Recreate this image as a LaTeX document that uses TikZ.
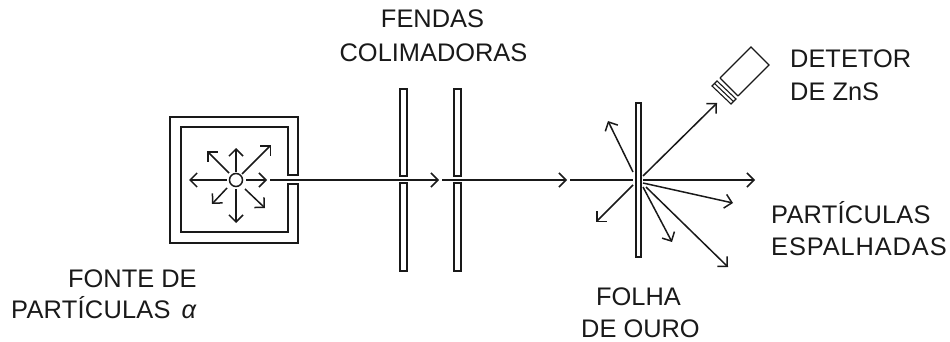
\documentclass[tikz,border=0pt]{standalone}
\usepackage{fontspec}
\setmainfont{Liberation Sans}
\usetikzlibrary{arrows.meta}
\tikzset{
 x=1pt,y=-1pt,
 ln/.style={draw=black!90,line width=1.5pt},
 ray/.style={ln,-{Straight Barb[length=7pt,width=14pt,line width=1.5pt]}},
 lbl/.style={font=\fontsize{25.4}{25.4}\selectfont,text=black!90,inner sep=0pt,anchor=base},
 lleft/.style={lbl,anchor=base west},
 slab/.style={ln,fill=white},
}
\begin{document}
\begin{tikzpicture}
\useasboundingbox (0,0) rectangle (950,342);
% source box
\draw[ln] (298,175) -- (298,117) -- (170,117) -- (170,243) -- (298,243) -- (298,184) -- (288,184) -- (288,232) -- (181,232) -- (181,127) -- (288,127) -- (288,175) -- cycle;
\node[ln,circle,minimum size=13pt,inner sep=0pt] (src) at (236,180) {};
\coordinate (al0) at (227,180); \coordinate (al1) at (189,180);
\coordinate (ar0) at (246,180); \coordinate (ar1) at (267,180);
\coordinate (au0) at (236,172); \coordinate (au1) at (236,148);
\coordinate (ad0) at (236,189); \coordinate (ad1) at (236,223);
\coordinate (aul0) at (229,173); \coordinate (aul1) at (207,151);
\coordinate (aur0) at (242,174); \coordinate (aur1) at (271,145);
\coordinate (adl0) at (227,188); \coordinate (adl1) at (212,204);
\coordinate (adr0) at (245,189); \coordinate (adr1) at (265,208);
\foreach \k in {al,ar,au,ad,aul,aur,adl,adr} \draw[ray] (\k0) -- (\k1);
% slits
\foreach \xa/\xb in {400/407,454/461}{
 \draw[slab] (\xa,89) rectangle (\xb,176);
 \draw[slab] (\xa,183) rectangle (\xb,271);
}
% foil
\draw[slab] (636,103) rectangle (641,257);
% beam
\coordinate (b0) at (270,180); \coordinate (b1) at (439,180);
\coordinate (b2) at (442,180); \coordinate (b3) at (567,180);
\coordinate (b4) at (570,180); \coordinate (b5) at (633,180);
\draw[ray] (b0) -- (b1);
\draw[ray] (b2) -- (b3);
\draw[ln] (b4) -- (b5);
% scattered rays
\coordinate (s0) at (643,180); \coordinate (s1) at (755,180);
\coordinate (s2) at (643,176); \coordinate (s3) at (717,103);
\coordinate (s4) at (633,172); \coordinate (s5) at (608,121);
\coordinate (s6) at (633,185); \coordinate (s7) at (596,222);
\coordinate (s8) at (643,183); \coordinate (s9) at (733,203);
\coordinate (s10) at (643,187); \coordinate (s11) at (672,242);
\coordinate (s12) at (646,187); \coordinate (s13) at (728,267);
\foreach \i/\j in {s0/s1,s2/s3,s4/s5,s6/s7,s8/s9,s10/s11,s12/s13} \draw[ray] (\i) -- (\j);
% detector
\draw[ln,line width=1.1pt] (720,78) -- (751,47) -- (769,65) -- (738,96);
\draw[ln,line width=1.1pt] (717,81) -- (712,86) -- (731,104) -- (736,99) -- cycle;
\draw[ln,line width=1.1pt] (720,78) -- (738,96);
\draw[ln,line width=1.1pt] (714.5,83.5) -- (733.5,101.5);
% labels
\node[lbl] (t1) at (432.5,28) {FENDAS};
\node[lbl] (t2) at (433.5,62) {COLIMADORAS};
\node[lleft] (t3) at (790,68) {DETETOR};
\node[lleft] (t4) at (790,101) {DE ZnS};
\node[lleft] (t5) at (771,223) {\addfontfeature{LetterSpace=1}PARTÍCULAS};
\node[lleft] (t6) at (771,255) {\addfontfeature{LetterSpace=3.5}ESPALHADAS};
\node[lleft] (t7) at (596,305) {FOLHA};
\node[lleft] (t8) at (581,337) {DE OURO};
\node[lleft] (t9) at (68,287) {FONTE DE};
\node[lleft] (t10) at (11,318) {\addfontfeature{LetterSpace=1}PARTÍCULAS\hspace{11pt}\textit{α}};
\end{tikzpicture}
\end{document}
